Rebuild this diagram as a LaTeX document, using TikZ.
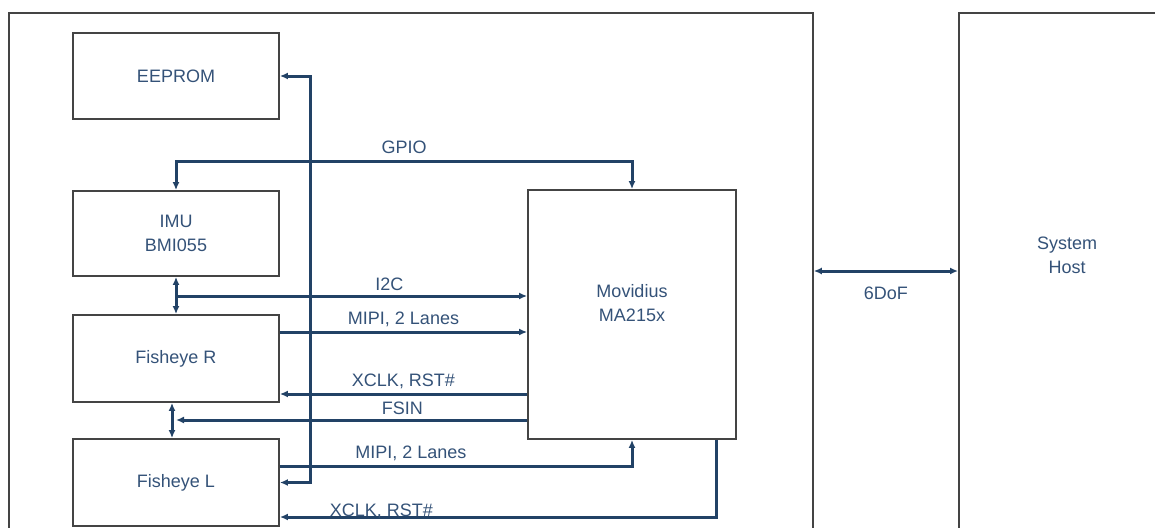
\documentclass[tikz,border=0pt]{standalone}
\usepackage{fontspec}
\setmainfont{Liberation Sans}
\usetikzlibrary{arrows.meta, positioning, calc}
\definecolor{wire}{RGB}{34,66,102}
\definecolor{ink}{RGB}{52,82,120}
\definecolor{frame}{RGB}{68,68,68}

\begin{document}
\begin{tikzpicture}[x=1pt, y=-1pt, >={Latex[length=8pt,width=7pt]},
  every node/.style={font=\fontsize{18}{24}\selectfont, text=ink},
  blk/.style={draw=frame, line width=1.8pt, minimum width=206pt, minimum height=86pt, align=center},
  bus/.style={draw=wire, line width=3pt}]
  \useasboundingbox (0,0) rectangle (1155,527);
  \clip (0,0) rectangle (1155,527);

  \node[draw=frame, line width=1.8pt, anchor=north west, minimum width=804pt, minimum height=600pt] (board) at (8,12) {};
  \node[draw=frame, line width=1.8pt, anchor=north west, minimum width=300pt, minimum height=600pt] (host) at (958,12) {};
  \node[align=center] (hosttxt) at (1067,255) {System\\Host};

  \node[blk] (ee) at (176,76) {EEPROM};
  \node[blk, minimum height=85pt] (imu) at (176,233.5) {IMU\\BMI055};
  \node[blk, minimum height=87pt] (fr) at (176,358.5) {Fisheye R};
  \node[blk, minimum height=87pt] (fl) at (176,482.5) {Fisheye L};
  \node[blk, minimum width=208pt, minimum height=249pt,
        label={[align=center, yshift=11.5pt]center:Movidius\\MA215x}] (mvd) at (632,314.5) {};

  \draw[bus, <->] (imu.north) -- ++(0,-29) -| (mvd.north) node[pos=0.25, above=3pt] {GPIO};
  \draw[bus, <->] (ee.east) -- ++(31,0) |- (fl.east);
  \draw[bus, <->] (imu.south) -- (fr.north);
  \draw[bus, ->] (imu.south |- 0,296) -- (mvd.west |- 0,296) node[pos=0.608, above] {I2C};
  \draw[bus, ->] (fr.east |- 0,332) -- (mvd.west |- 0,332) node[midway, above] {MIPI, 2 Lanes};
  \draw[bus, ->] (mvd.west |- 0,394) -- (fr.east |- 0,394) node[midway, above] {XCLK, RST\#};
  \draw[bus, <->] ($(fr.south)+(-4,0)$) -- ($(fl.north)+(-4,0)$);
  \draw[bus, ->] (mvd.west |- 0,420) -- (fr.south |- 0,420) node[pos=0.355, above] {FSIN};
  \draw[bus, ->] (fl.east |- 0,466) -| (mvd.south) node[pos=0.186, above] {MIPI, 2 Lanes};
  \draw[bus, ->] ($(mvd.south east)+(-20,0)$) |- (fl.east |- 0,517) node[pos=0.884, anchor=base, yshift=1pt] {XCLK, RST\#};

  \draw[bus, <->] (board.east |- 0,271) -- (host.west |- 0,271) node[midway, below=11pt] {6DoF};
\end{tikzpicture}
\end{document}
